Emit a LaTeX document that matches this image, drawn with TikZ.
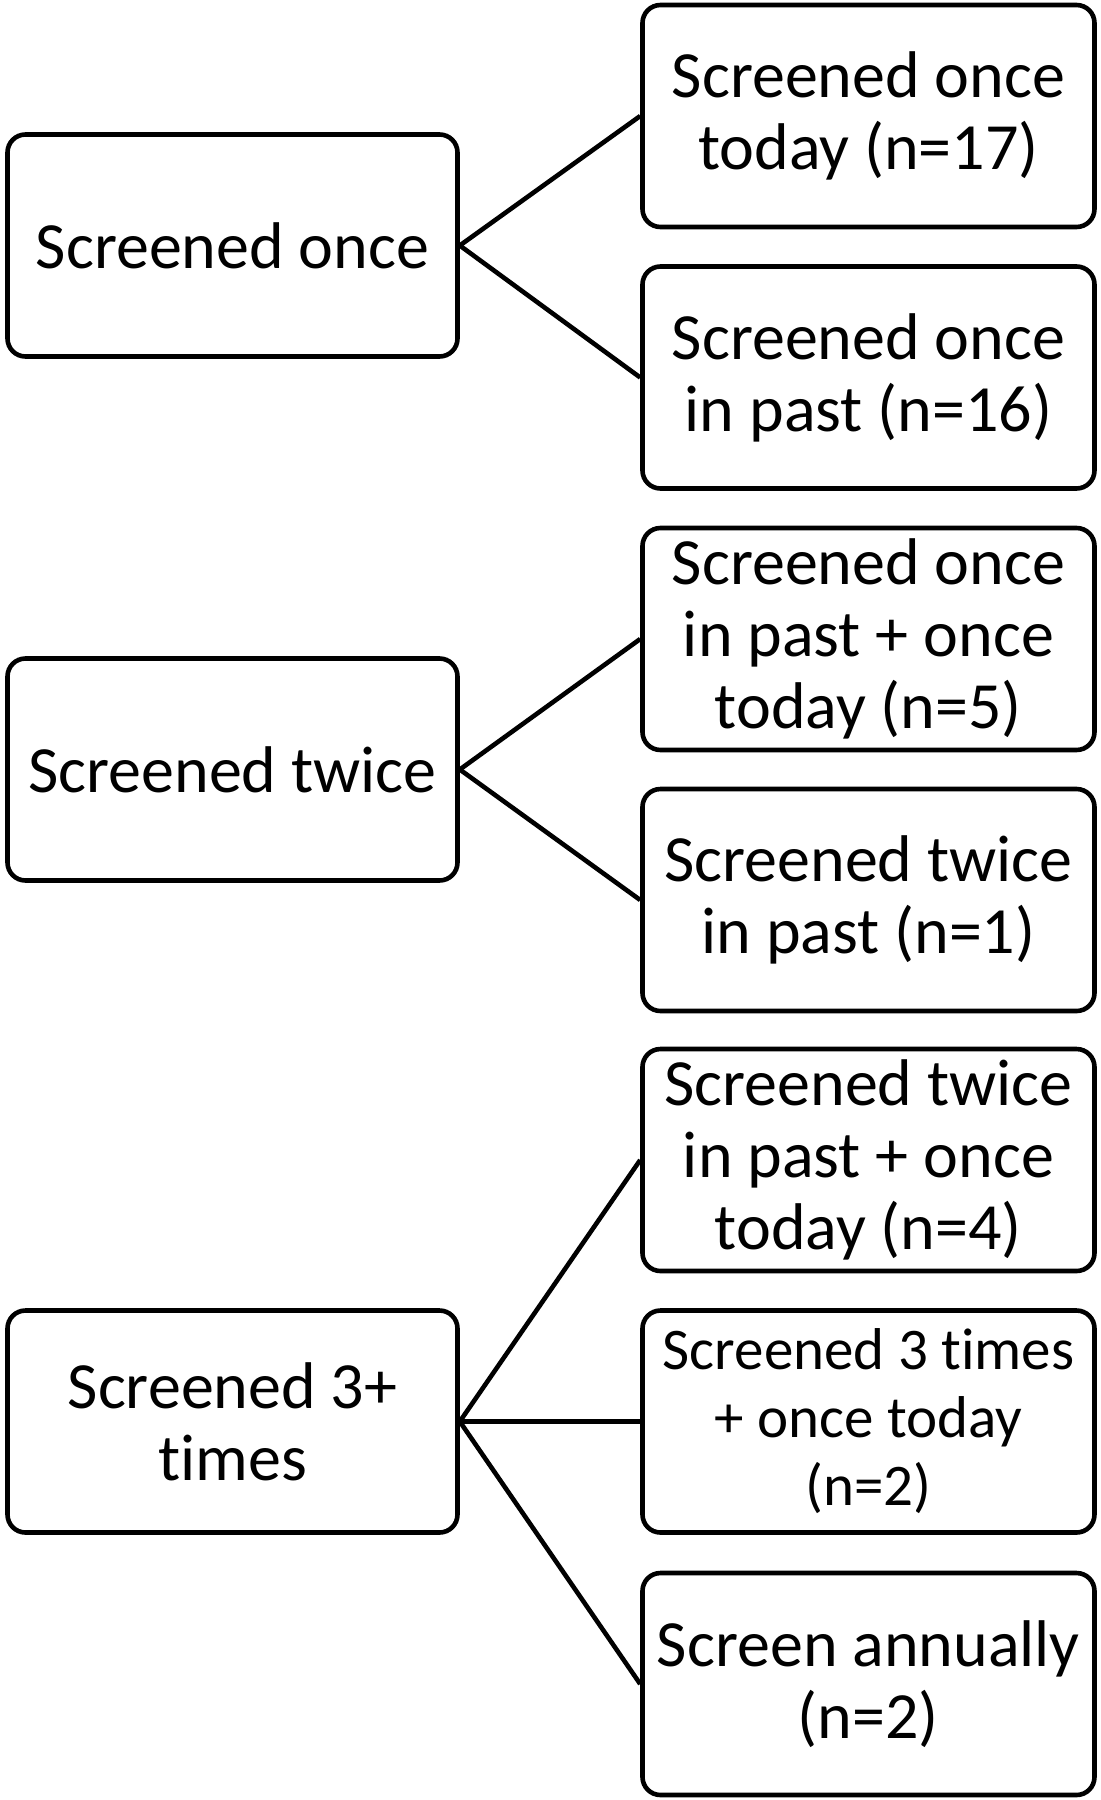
\documentclass[tikz,border=0pt]{standalone}
\usepackage{fontspec}
\setmainfont{Carlito}[Ligatures={NoCommon}]
\begin{document}
\begin{tikzpicture}[x=0.5pt,y=-0.5pt,
  box/.style={draw=black, line width=2.3pt, rounded corners=9pt, align=center,
    minimum height=111pt, inner sep=0pt, font=\fontsize{33}{36}\selectfont},
  lbox/.style={box, minimum width=225pt},
  rbox/.style={box, minimum width=226pt},
  small/.style={font=\fontsize{29.5}{34}\selectfont},
  conn/.style={draw=black, line width=2.3pt}]
\useasboundingbox (0,0) rectangle (1100,1800);
\node[lbox] (l1) at (232.5,245.5) {Screened once};
\node[lbox] (l2) at (232.5,769.5) {Screened twice};
\node[lbox] (l3) at (232.5,1421.5) {Screened 3+\\times};
\node[rbox] (r1) at (868.5,116) {Screened once\\today (n=17)};
\node[rbox] (r2) at (868.5,377.5) {Screened once\\in past (n=16)};
\node[rbox] (r3) at (868.5,639) {Screened once\\in past + once\\today (n=5)};
\node[rbox] (r4) at (868.5,900) {Screened twice\\in past (n=1)};
\node[rbox] (r5) at (868.5,1160) {Screened twice\\in past + once\\today (n=4)};
\node[rbox,small] (r6) at (868.5,1421.5) {Screened 3 times\\+ once today\\(n=2)};
\node[rbox] (r7) at (868.5,1684) {Screen annually\\(n=2)};
\draw[conn] (l1.east) -- (r1.west);
\draw[conn] (l1.east) -- (r2.west);
\draw[conn] (l2.east) -- (r3.west);
\draw[conn] (l2.east) -- (r4.west);
\draw[conn] (l3.east) -- (r5.west);
\draw[conn] (l3.east) -- (r6.west);
\draw[conn] (l3.east) -- (r7.west);
\end{tikzpicture}
\end{document}
